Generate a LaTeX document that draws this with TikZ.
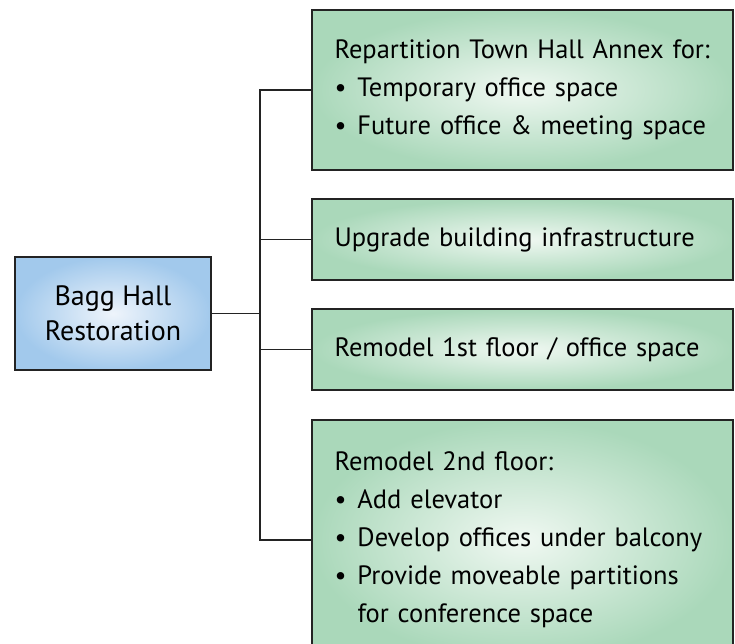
\documentclass[tikz,border=0pt]{standalone}
\usepackage{fontspec}
\setmainfont{PT Sans}
\definecolor{leafgreen}{RGB}{170,216,186}
\definecolor{leafpale}{RGB}{240,248,242}
\definecolor{rootblue}{RGB}{162,201,236}
\definecolor{rootpale}{RGB}{238,244,251}
\definecolor{edge}{RGB}{35,35,35}
\newcommand{\bul}{\makebox[23pt][l]{\textbullet}}
\begin{document}
\begin{tikzpicture}[x=1pt, y=-1pt, line width=1.5pt,
    root/.style = {draw=edge, line width=1.5pt, inner color=rootpale, outer color=rootblue, minimum width=196pt, minimum height=113pt, align=center, font=\fontsize{28}{35}\selectfont},
    task/.style = {draw=edge, line width=1.5pt, inner color=leafpale, outer color=leafgreen, text width=376pt, inner xsep=22.5pt, align=left, font=\fontsize{26.5}{38}\selectfont}]
	\useasboundingbox (0,0) rectangle (735,644);
	\clip (0,0) rectangle (735,644);
	\node[root] (bagg) at (113,313.5) {Bagg Hall\\Restoration};
	\node[task, minimum height=160pt] (annex) at (522.5,90) {Repartition Town Hall Annex for:\\\bul Temporary office space\\\bul Future office \& meeting space};
	\node[task, minimum height=81pt] (infra) at (522.5,239.5) {Upgrade building infrastructure};
	\node[task, minimum height=81pt] (first) at (522.5,349.5) {Remodel 1st floor / office space};
	\node[task, minimum height=240pt] (second) at (522.5,540) {Remodel 2nd floor:\\\bul Add elevator\\\bul Develop offices under balcony\\\bul Provide moveable partitions\\\hspace*{23pt}for conference space};
	\coordinate (spine) at (260,0);
	\draw[draw=edge] (bagg.east) -- (bagg.east -| spine);
	\draw[draw=edge] (annex.west) -- (annex.west -| spine) -- (second.west -| spine) -- (second.west);
	\draw[draw=edge] (infra.west) -- (infra.west -| spine);
	\draw[draw=edge] (first.west) -- (first.west -| spine);
\end{tikzpicture}
\end{document}
